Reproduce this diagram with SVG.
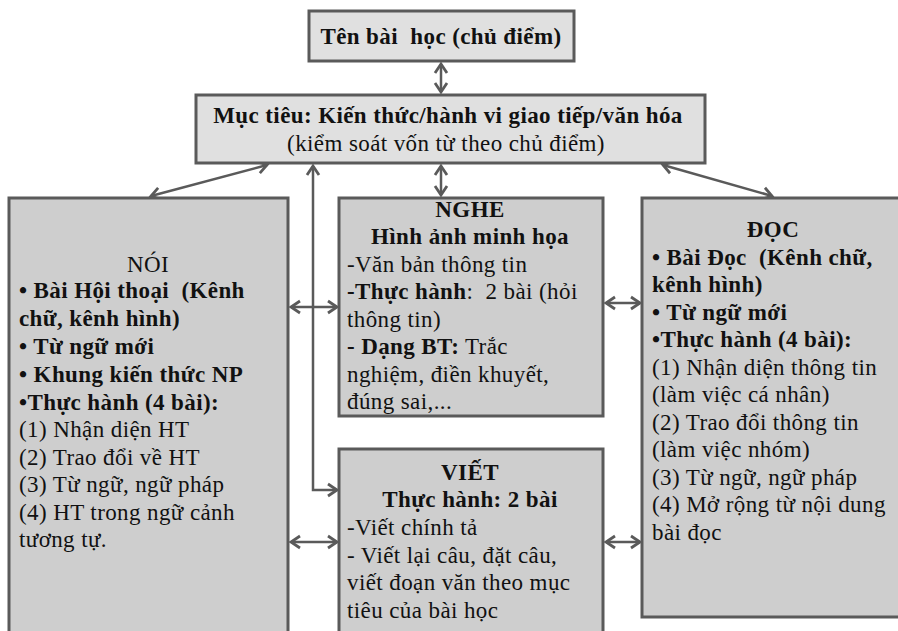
<svg xmlns="http://www.w3.org/2000/svg" width="898" height="631" viewBox="0 0 898 631" font-family="'Liberation Serif', 'Times New Roman', serif">
<defs>
<style>
text{font-size:23px;letter-spacing:0.4px;fill:#111;white-space:pre}
.b{font-weight:bold}
.c{text-anchor:middle}
.up{fill:#e0e0e0;stroke:#5a5a5a;stroke-width:3}
.lo{fill:#cecece;stroke:#5a5a5a;stroke-width:3}
.con{fill:none;stroke:#5a5a5a;stroke-width:2.5}
</style>
<marker id="ah" markerUnits="userSpaceOnUse" markerWidth="16" markerHeight="16" refX="0" refY="0" orient="auto-start-reverse" overflow="visible">
<path d="M-9,-6 L0,0 L-9,6" fill="none" stroke="#5a5a5a" stroke-width="2.8" stroke-linejoin="miter"/>
</marker>
</defs>
<rect width="898" height="631" fill="#fff"/>
<g id="connectors">
<line class="con" x1="441" y1="64" x2="441" y2="92" marker-start="url(#ah)" marker-end="url(#ah)"/>
<line class="con" x1="441" y1="166" x2="441" y2="195" marker-start="url(#ah)" marker-end="url(#ah)"/>
<line class="con" x1="267" y1="165" x2="151" y2="196" marker-start="url(#ah)" marker-end="url(#ah)"/>
<line class="con" x1="663" y1="165" x2="772" y2="196" marker-start="url(#ah)" marker-end="url(#ah)"/>
<polyline class="con" points="313,166 313,490 337,490" marker-start="url(#ah)" marker-end="url(#ah)"/>
<line class="con" x1="291" y1="307" x2="337" y2="307" marker-start="url(#ah)" marker-end="url(#ah)"/>
<line class="con" x1="291" y1="542" x2="337" y2="542" marker-start="url(#ah)" marker-end="url(#ah)"/>
<line class="con" x1="606" y1="303" x2="640" y2="303" marker-start="url(#ah)" marker-end="url(#ah)"/>
<line class="con" x1="606" y1="542" x2="640" y2="542" marker-start="url(#ah)" marker-end="url(#ah)"/>
</g>
<g id="ten-bai-hoc">
<rect class="up" x="309" y="11" width="265" height="50"/>
<text class="b c" x="441" y="44">Tên bài  học (chủ điểm)</text>
</g>
<g id="muc-tieu">
<rect class="up" x="196" y="95" width="509" height="68"/>
<text class="b c" x="448" y="123">Mục tiêu: Kiến thức/hành vi giao tiếp/văn hóa</text>
<text class="c" x="446" y="151">(kiểm soát vốn từ theo chủ điểm)</text>
</g>
<g id="noi">
<rect class="lo" x="9" y="198" width="279" height="450"/>
<text class="c" x="148" y="272">NÓI</text>
<text class="b" x="19" y="298">• Bài Hội thoại  (Kênh</text>
<text class="b" x="19" y="326">chữ, kênh hình)</text>
<text class="b" x="19" y="354">• Từ ngữ mới</text>
<text class="b" x="19" y="381.5">• Khung kiến thức NP</text>
<text class="b" x="19" y="409.5">•Thực hành (4 bài):</text>
<text x="19" y="437">(1) Nhận diện HT</text>
<text x="19" y="464.5">(2) Trao đổi về HT</text>
<text x="19" y="492">(3) Từ ngữ, ngữ pháp</text>
<text x="19" y="519.5">(4) HT trong ngữ cảnh</text>
<text x="19" y="547">tương tự.</text>
</g>
<g id="nghe">
<rect class="lo" x="339" y="198" width="264" height="218"/>
<text class="b c" x="470" y="217">NGHE</text>
<text class="b c" x="470" y="244">Hình ảnh minh họa</text>
<text x="347" y="271.5">-Văn bản thông tin</text>
<text x="347" y="299"><tspan class="b">-Thực hành</tspan>:  2 bài (hỏi</text>
<text x="347" y="326.5">thông tin)</text>
<text x="347" y="354"><tspan class="b">- Dạng BT:</tspan> Trắc</text>
<text x="347" y="381.5">nghiệm, điền khuyết,</text>
<text x="347" y="409">đúng sai,...</text>
</g>
<g id="viet">
<rect class="lo" x="339" y="449" width="264" height="200"/>
<text class="b c" x="470" y="480">VIẾT</text>
<text class="b c" x="470" y="507">Thực hành: 2 bài</text>
<text x="347" y="535">-Viết chính tả</text>
<text x="347" y="562.5">- Viết lại câu, đặt câu,</text>
<text x="347" y="590">viết đoạn văn theo mục</text>
<text x="347" y="617.5">tiêu của bài học</text>
</g>
<g id="doc">
<rect class="lo" x="642" y="198" width="262" height="419"/>
<text class="b c" x="773" y="237">ĐỌC</text>
<text class="b" x="652" y="264.5">• Bài Đọc  (Kênh chữ,</text>
<text class="b" x="652" y="292">kênh hình)</text>
<text class="b" x="652" y="319.5">• Từ ngữ mới</text>
<text class="b" x="652" y="347">•Thực hành (4 bài):</text>
<text x="652" y="374.5">(1) Nhận diện thông tin</text>
<text x="652" y="402">(làm việc cá nhân)</text>
<text x="652" y="429.5">(2) Trao đổi thông tin</text>
<text x="652" y="457">(làm việc nhóm)</text>
<text x="652" y="484.5">(3) Từ ngữ, ngữ pháp</text>
<text x="652" y="512">(4) Mở rộng từ nội dung</text>
<text x="652" y="539.5">bài đọc</text>
</g>
</svg>
